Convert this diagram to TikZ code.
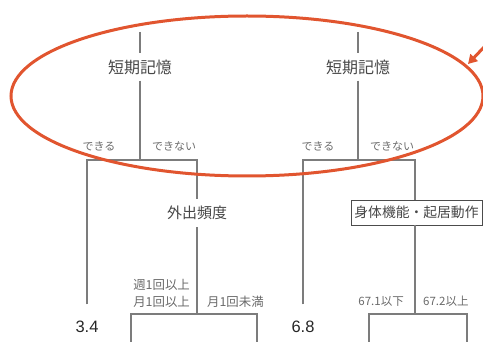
\documentclass[tikz,border=0pt]{standalone}
\usepackage{fontspec}
\setmainfont{Noto Sans CJK JP}
\newfontfamily\numfont{Liberation Sans}
\usetikzlibrary{arrows.meta}
\definecolor{treeline}{HTML}{7C7C7C}
\definecolor{headtext}{HTML}{474747}
\definecolor{smalltext}{HTML}{6A6A6A}
\definecolor{markred}{HTML}{E1552F}
\tikzset{
  tline/.style={draw=treeline, line width=1.3pt},
  headlbl/.style={text=headtext, inner sep=0pt, font=\fontsize{16}{18}\selectfont},
  branchlbl/.style={text=smalltext, inner sep=0pt, font=\fontsize{11}{13}\selectfont},
  condlbl/.style={text=smalltext, inner sep=0pt, align=right, font=\fontsize{12.4}{17}\selectfont},
  leaflbl/.style={text=black!85, inner sep=0pt, minimum height=45pt, font=\numfont\fontsize{16.5}{18}\selectfont},
  boxlbl/.style={draw=black!70, line width=0.9pt, text=headtext, fill=white, inner sep=0pt,
    minimum width=131pt, minimum height=25pt, font=\fontsize{13.8}{15}\selectfont},
  redmark/.style={draw=markred, line width=3pt}
}
\begin{document}
\begin{tikzpicture}[x=1pt,y=-1pt]
\useasboundingbox (0,0) rectangle (483,342);
% ---------- left tree ----------
\coordinate (lTop) at (140,32);
\node[headlbl, minimum height=27pt] (lHead) at (140,67) {短期記憶};
\coordinate (lJ) at (140,160);
\coordinate (lJL) at (87,160);
\coordinate (lJR) at (197,160);
\node[branchlbl] (lYes) at (99,146) {できる};
\node[branchlbl] (lNo) at (174,146) {できない};
\node[leaflbl] (l34) at (87,327) {3.4};
\node[headlbl, minimum height=28pt, font=\fontsize{15}{17}\selectfont] (lOut) at (197,213) {外出頻度};
\coordinate (lK) at (197,314);
\coordinate (lKL) at (131,314);
\coordinate (lKR) at (257,314);
\coordinate (lKLb) at (131,343);
\coordinate (lKRb) at (257,343);
\node[condlbl, anchor=east] (lWeek) at (190,293.5) {週1回以上\\月1回以上};
\node[condlbl, anchor=west] (lLess) at (207,302) {月1回未満};
\draw[tline] (lTop) -- (lHead.north);
\draw[tline] (lHead.south) -- (lJ);
\draw[tline] (lKLb) -- (lKL) -- (lKR) -- (lKRb);
\draw[tline] (l34.north) -- (lJL) -- (lJR) -- (lOut.north);
\draw[tline] (lOut.south) -- (lK);
% ---------- right tree ----------
\coordinate (rTop) at (358,32);
\node[headlbl, minimum height=27pt] (rHead) at (358,67) {短期記憶};
\coordinate (rJ) at (358,160);
\coordinate (rJL) at (303,160);
\coordinate (rJR) at (415,160);
\node[branchlbl] (rYes) at (318,146) {できる};
\node[branchlbl] (rNo) at (392,146) {できない};
\node[leaflbl] (r68) at (303,327) {6.8};
\node[boxlbl] (rBody) at (416.5,212.5) {身体機能・起居動作};
\coordinate (rBodyT) at (415,200);
\coordinate (rBodyB) at (415,225);
\coordinate (rK) at (415,314);
\coordinate (rKL) at (369,314);
\coordinate (rKR) at (467,314);
\coordinate (rKLb) at (369,343);
\coordinate (rKRb) at (467,343);
\node[branchlbl, anchor=east, font=\fontsize{11.5}{13}\selectfont] (rLow) at (404,301) {67.1以下};
\node[branchlbl, anchor=west, font=\fontsize{11.5}{13}\selectfont] (rHigh) at (423,301) {67.2以上};
\draw[tline] (rTop) -- (rHead.north);
\draw[tline] (rHead.south) -- (rJ);
\draw[tline] (r68.north) -- (rJL) -- (rJR) -- (rBodyT);
\draw[tline] (rBodyB) -- (rK);
\draw[tline] (rKLb) -- (rKL) -- (rKR) -- (rKRb);
% ---------- red highlight ----------
\coordinate (ellC) at (247,96);
\draw[redmark] (ellC) ellipse [x radius=236, y radius=80];
\coordinate (arrS) at (486,45);
\coordinate (arrE) at (468,64);
\draw[redmark, -{Triangle[length=9pt,width=10pt]}] (arrS) -- (arrE);
\end{tikzpicture}
\end{document}
